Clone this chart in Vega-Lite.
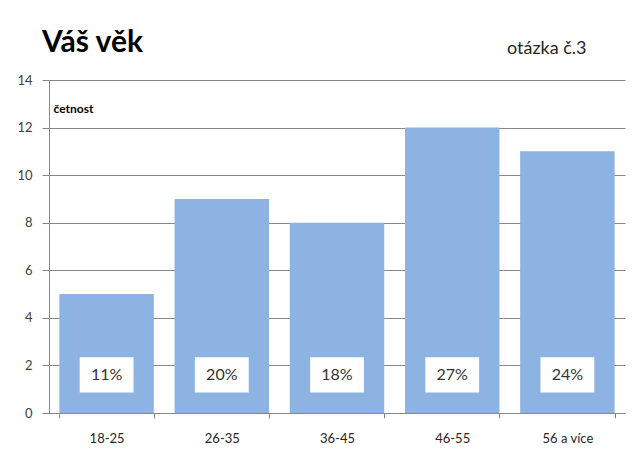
{
  "$schema": "https://vega.github.io/schema/vega-lite/v6.json",
  "width": 576,
  "height": 333,
  "autosize": "none",
  "padding": {"left": 49, "top": 80, "right": 15, "bottom": 41},
  "background": "white",
  "title": {
    "text": "Váš věk",
    "anchor": "start",
    "frame": "group",
    "font": "Lato",
    "fontSize": 30,
    "fontWeight": "bold",
    "color": "#000000",
    "dx": -7,
    "offset": -43,
    "baseline": "alphabetic"
  },
  "data": {
    "values": [
      {"vek": "18-25", "cetnost": 5, "podil": "11%"},
      {"vek": "26-35", "cetnost": 9, "podil": "20%"},
      {"vek": "36-45", "cetnost": 8, "podil": "18%"},
      {"vek": "46-55", "cetnost": 12, "podil": "27%"},
      {"vek": "56 a více", "cetnost": 11, "podil": "24%"}
    ]
  },
  "layer": [
    {
      "mark": {"type": "bar", "color": "#8DB3E2"},
      "encoding": {
        "x": {
          "field": "vek",
          "type": "nominal",
          "sort": null,
          "scale": {"paddingInner": 0.18, "paddingOuter": 0.09},
          "axis": {
            "title": null,
            "labelAngle": 0,
            "tickBand": "extent",
            "tickSize": 5,
            "tickColor": "#878787",
            "domainColor": "#878787",
            "labelFont": "Lato",
            "labelFontSize": 13,
            "labelColor": "#262626",
            "labelPadding": 14
          }
        },
        "y": {
          "field": "cetnost",
          "type": "quantitative",
          "scale": {"domain": [0, 14]},
          "axis": {
            "values": [0, 2, 4, 6, 8, 10, 12, 14],
            "grid": true,
            "gridColor": "#878787",
            "domainColor": "#878787",
            "tickColor": "#878787",
            "tickSize": 7,
            "labelPadding": 10,
            "labelFont": "Lato",
            "labelFontSize": 13,
            "labelColor": "#404040",
            "title": "četnost",
            "titleAngle": 0,
            "titleAlign": "left",
            "titleBaseline": "alphabetic",
            "titleX": 4,
            "titleY": 32,
            "titleFont": "Lato",
            "titleFontSize": 12,
            "titleFontWeight": "bold",
            "titleColor": "#000000"
          }
        }
      }
    },
    {
      "mark": {"type": "bar", "color": "white", "width": {"band": 0.57}},
      "encoding": {
        "x": {
          "field": "vek",
          "type": "nominal",
          "sort": null,
          "axis": {
            "orient": "top",
            "labels": false,
            "ticks": false,
            "domain": false,
            "grid": false,
            "title": "otázka č.3",
            "titleAlign": "right",
            "titleBaseline": "alphabetic",
            "titleX": 537,
            "titleY": -27,
            "titleFont": "Lato",
            "titleFontSize": 18,
            "titleFontWeight": "normal",
            "titleColor": "#262626"
          }
        },
        "y": {"datum": 0.86},
        "y2": {"datum": 2.34}
      }
    },
    {
      "mark": {"type": "text", "font": "Lato", "fontSize": 16, "color": "#333333", "baseline": "middle"},
      "encoding": {
        "x": {"field": "vek", "type": "nominal", "sort": null, "axis": null},
        "y": {"datum": 1.6},
        "text": {"field": "podil"}
      }
    }
  ],
  "resolve": {"axis": {"x": "independent"}},
  "config": {"view": {"stroke": null}}
}
